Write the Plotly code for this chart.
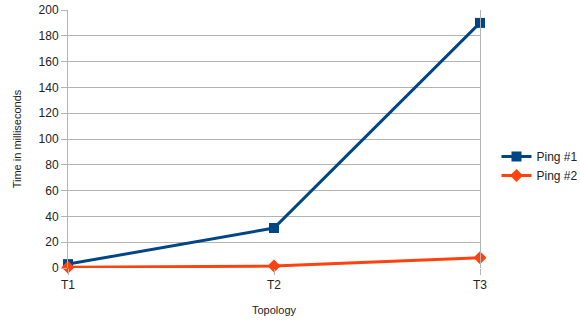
import plotly.graph_objects as go

# Ping round-trip times per network topology
topologies = ["T1", "T2", "T3"]
ping1_ms = [3, 31, 190]
ping2_ms = [0.5, 1.5, 8]

fig = go.Figure()
fig.add_trace(go.Scatter(
    x=topologies, y=ping1_ms, name="Ping #1", mode="lines+markers",
    line=dict(color="#004586", width=3),
    marker=dict(symbol="square", size=10, color="#004586"),
    cliponaxis=False,
))
fig.add_trace(go.Scatter(
    x=topologies, y=ping2_ms, name="Ping #2", mode="lines+markers",
    line=dict(color="#ff420e", width=3),
    marker=dict(symbol="diamond", size=10, color="#ff420e"),
    cliponaxis=False,
))

fig.update_layout(
    width=580, height=322,
    margin=dict(l=68, r=100, t=10, b=54, autoexpand=False),
    paper_bgcolor="white", plot_bgcolor="white",
    font=dict(family="Liberation Sans, Arial, sans-serif", size=12, color="#222"),
    showlegend=True,
    legend=dict(x=1.04, y=0.395, xanchor="left", yanchor="middle",
                font=dict(size=12), tracegroupgap=0, itemwidth=30),
    xaxis=dict(
        title=dict(text="Topology", font=dict(size=11), standoff=14),
        range=[0, 2], type="category",
        showgrid=False, zeroline=False,
        showline=False, ticks="outside", ticklen=6, tickcolor="#b3b3b3",
    ),
    yaxis=dict(
        title=dict(text="Time in milliseconds", font=dict(size=11), standoff=14),
        range=[0, 200], dtick=20,
        showgrid=True, gridcolor="#b3b3b3", gridwidth=1,
        zeroline=False,
        showline=True, linecolor="#b3b3b3", linewidth=1, mirror=True,
        ticks="outside", ticklen=6, tickcolor="#b3b3b3",
    ),
)

fig.write_html("out.html")
